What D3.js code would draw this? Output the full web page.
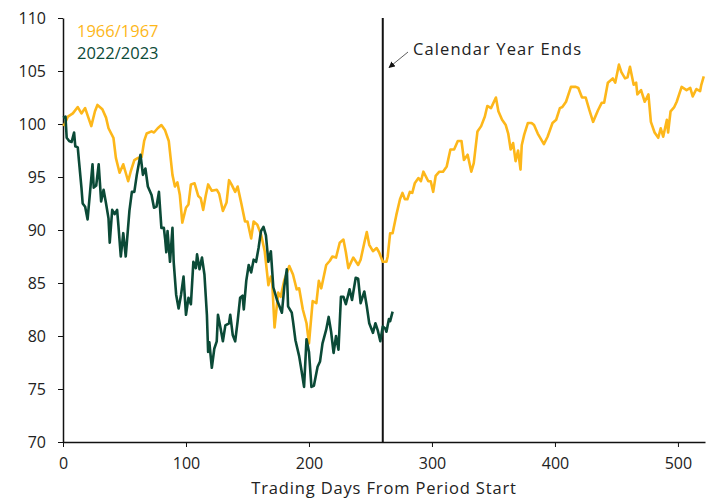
<!DOCTYPE html>
<html>
<head>
<meta charset="utf-8">
<script src="https://cdn.jsdelivr.net/npm/d3@7"></script>
<style>
  body { margin: 0; background: #fff; }
  text { font-family: "Open Sans", "Noto Sans", sans-serif; }
</style>
</head>
<body>
<div id="graphic"></div>
<script>
// 1966/1967 series (trading day, index level)
const goldDays = [0,1,4,8,12,15,18,23,26,28,32,35,37,41,43,46,49,51,53,55,58,61,64,66,68,72,74,77,80,83,86,89,91,93,95,97,100,102,104,107,110,112,114,116,118,121,125,127,130,133,135,137,140,142,145,148,150,153,155,158,161,164,167,169,170,172,175,177,180,184,187,190,192,195,198,200,203,206,208,210,214,217,219,222,225,228,230,232,236,240,242,245,247,249,252,255,257,260,263,264,266,268,271,274,276,278,280,282,284,286,289,291,293,297,299,301,303,306,309,312,315,318,321,324,326,329,332,334,337,340,343,345,348,352,354,357,360,362,364,366,368,370,372,373,375,378,381,383,386,391,394,398,401,404,406,409,413,417,419,422,425,428,431,435,438,440,443,447,449,452,454,457,459,461,464,466,467,470,473,476,478,481,484,486,488,491,492,494,497,499,503,507,510,512,515,518,519,521];
const goldValues = [100.0,99.9,100.7,101.0,101.6,101.0,101.5,99.8,101.2,101.8,101.4,100.6,99.6,98.7,96.8,95.4,96.2,95.4,94.6,95.5,96.6,96.8,96.9,98.4,99.1,99.3,99.2,99.6,99.9,99.4,98.4,95.2,94.1,94.5,93.3,90.7,92.1,92.4,94.3,94.4,93.2,93.0,91.9,93.2,94.3,93.7,93.8,93.4,91.8,92.6,94.7,94.3,93.6,94.1,92.5,90.8,90.8,89.2,90.8,90.5,89.6,88.0,84.8,85.6,85.3,80.8,84.1,83.7,85.3,86.6,85.8,84.4,84.5,82.5,81.2,79.3,83.3,83.1,85.2,84.5,86.7,87.1,87.5,87.4,88.8,89.1,87.9,86.4,87.4,86.7,87.2,88.8,89.8,88.6,88.0,88.3,87.9,87.0,87.0,87.5,89.7,89.7,91.4,92.9,93.5,92.9,92.9,93.6,93.5,94.4,94.9,94.6,95.5,94.6,94.6,93.6,95.1,95.5,95.5,96.0,97.6,97.6,98.4,98.4,96.6,97.1,95.5,96.3,99.3,99.8,100.7,101.7,101.5,102.5,101.2,100.4,99.9,99.1,97.6,98.2,96.5,97.5,95.7,98.0,99.0,100.1,100.1,99.9,99.1,98.1,98.8,100.1,100.4,101.5,101.6,102.1,103.5,103.5,103.4,102.5,102.5,101.3,100.2,101.3,102.0,102.0,103.9,104.3,103.9,105.6,104.9,104.3,104.4,105.4,103.7,103.9,102.8,103.2,102.1,102.8,100.2,99.2,98.7,99.6,98.8,100.4,99.2,101.2,101.6,102.1,103.5,103.2,103.4,102.6,103.3,103.1,103.7,104.5];

// 2022/2023 series
const greenDays = [0,2,3,5,7,9,10,12,13,15,16,18,20,22,24,25,27,29,30,31,33,35,37,38,40,42,44,45,47,49,51,54,56,58,60,63,65,67,69,72,74,76,78,80,82,83,84,85,87,89,90,92,94,96,98,100,102,104,106,108,109,111,113,115,117,118,119,121,123,125,126,128,130,132,135,136,138,140,142,144,146,147,149,151,153,155,157,159,161,163,165,167,169,171,174,176,178,180,182,183,186,187,189,192,194,196,198,200,202,204,207,209,211,214,216,218,220,222,224,226,228,230,233,235,238,240,242,245,247,249,252,254,256,258,260,262,263,265,266,268];
const greenValues = [100.6,100.7,98.7,98.4,98.3,99.2,97.9,97.8,96.5,94.0,92.5,92.2,91.0,93.6,96.2,94.0,94.2,96.2,94.5,92.7,93.8,92.5,91.1,88.8,91.9,91.5,91.9,90.5,87.5,89.7,87.5,91.8,93.6,93.6,95.2,97.1,95.2,95.8,94.1,93.3,92.1,92.2,93.6,90.2,90.2,89.2,87.9,89.9,87.0,90.2,87.0,83.9,82.6,83.9,85.6,82.0,83.6,83.0,87.0,86.4,87.7,86.3,87.4,85.8,82.0,78.5,79.4,77.0,78.8,79.5,82.0,80.8,79.5,81.0,81.2,82.0,80.1,79.5,81.4,83.6,83.8,82.5,85.2,86.7,86.0,87.2,87.0,88.3,89.9,90.3,89.5,87.0,88.0,84.6,83.4,82.8,82.2,84.7,86.3,82.8,82.2,81.4,79.6,78.1,76.7,75.2,79.7,78.5,75.2,75.3,77.1,77.6,79.3,80.6,81.8,80.4,78.4,80.0,78.7,83.7,83.7,83.0,84.4,83.4,85.5,85.4,83.1,84.2,82.8,81.2,80.3,81.2,80.5,79.5,80.9,80.7,80.4,81.6,81.4,82.3];

const seriesNames = ["1966/1967", "2022/2023"];
const seriesColors = ["#FDB71A", "#0B4A37"];
const yTicks = [70, 75, 80, 85, 90, 95, 100, 105, 110];
const xTicks = [0, 100, 200, 300, 400, 500];
const calendarEnd = 260;

const W = 711, H = 498;
const margin = {top: 18, right: 6, bottom: 56, left: 63};
const width = W - margin.left - margin.right;
const height = H - margin.top - margin.bottom;

const svg = d3.select("#graphic")
    .append("svg")
    .attr("width", W)
    .attr("height", H);

const g = svg.append("g")
    .attr("transform", `translate(${margin.left}, ${margin.top})`);

const x = d3.scaleLinear().domain([0, 522]).range([0, width]);
const y = d3.scaleLinear().domain([70, 110]).range([height, 0]);

// axes
const yAxis = g.append("g")
    .call(d3.axisLeft(y).tickValues(yTicks).tickSize(5).tickSizeOuter(0).tickPadding(12));
const xAxis = g.append("g")
    .attr("transform", `translate(0, ${height})`)
    .call(d3.axisBottom(x).tickValues(xTicks).tickSize(5).tickSizeOuter(0).tickPadding(11));

[xAxis, yAxis].forEach(a => {
    a.select(".domain").attr("stroke", "#111").attr("stroke-width", 1.5);
    a.selectAll(".tick line").attr("stroke", "#111");
    a.selectAll(".tick text").attr("font-size", 16).attr("fill", "#222")
        .style("font-family", '"Open Sans", sans-serif');
});

// calendar year end marker
g.append("line")
    .attr("x1", x(calendarEnd)).attr("x2", x(calendarEnd))
    .attr("y1", y(110)).attr("y2", y(70))
    .attr("stroke", "#111")
    .attr("stroke-width", 2);

// lines
const line = d3.line()
    .x(d => x(d[0]))
    .y(d => y(d[1]));

const goldData = goldDays.map((d, i) => [d, goldValues[i]]);
const greenData = greenDays.map((d, i) => [d, greenValues[i]]);

g.append("path")
    .datum(goldData)
    .attr("fill", "none")
    .attr("stroke", seriesColors[0])
    .attr("stroke-width", 2.6)
    .attr("stroke-linejoin", "round")
    .attr("d", line);

g.append("path")
    .datum(greenData)
    .attr("fill", "none")
    .attr("stroke", seriesColors[1])
    .attr("stroke-width", 2.6)
    .attr("stroke-linejoin", "round")
    .attr("d", line);

// legend
seriesNames.forEach((name, i) => {
    svg.append("text")
        .attr("x", 77)
        .attr("y", 37 + i * 21.5)
        .attr("font-size", 16.5)
        .attr("fill", seriesColors[i])
        .text(name);
});

// annotation
svg.append("defs").append("marker")
    .attr("id", "arrow")
    .attr("viewBox", "0 0 10 10")
    .attr("refX", 9).attr("refY", 5)
    .attr("markerWidth", 8).attr("markerHeight", 8)
    .attr("orient", "auto")
    .append("path")
    .attr("d", "M0,0 L10,5 L0,10 Z")
    .attr("fill", "#111");

svg.append("line")
    .attr("x1", 408).attr("y1", 52)
    .attr("x2", 389).attr("y2", 67.5)
    .attr("stroke", "#333")
    .attr("stroke-width", 0.8)
    .attr("marker-end", "url(#arrow)");

svg.append("text")
    .attr("x", 413)
    .attr("y", 55)
    .attr("font-size", 16.5)
    .attr("letter-spacing", 1.1)
    .attr("fill", "#222")
    .text("Calendar Year Ends");

// x axis title
svg.append("text")
    .attr("x", 384)
    .attr("y", 494)
    .attr("text-anchor", "middle")
    .attr("font-size", 16.5)
    .attr("letter-spacing", 0.85)
    .attr("fill", "#222")
    .text("Trading Days From Period Start");
</script>
</body>
</html>
